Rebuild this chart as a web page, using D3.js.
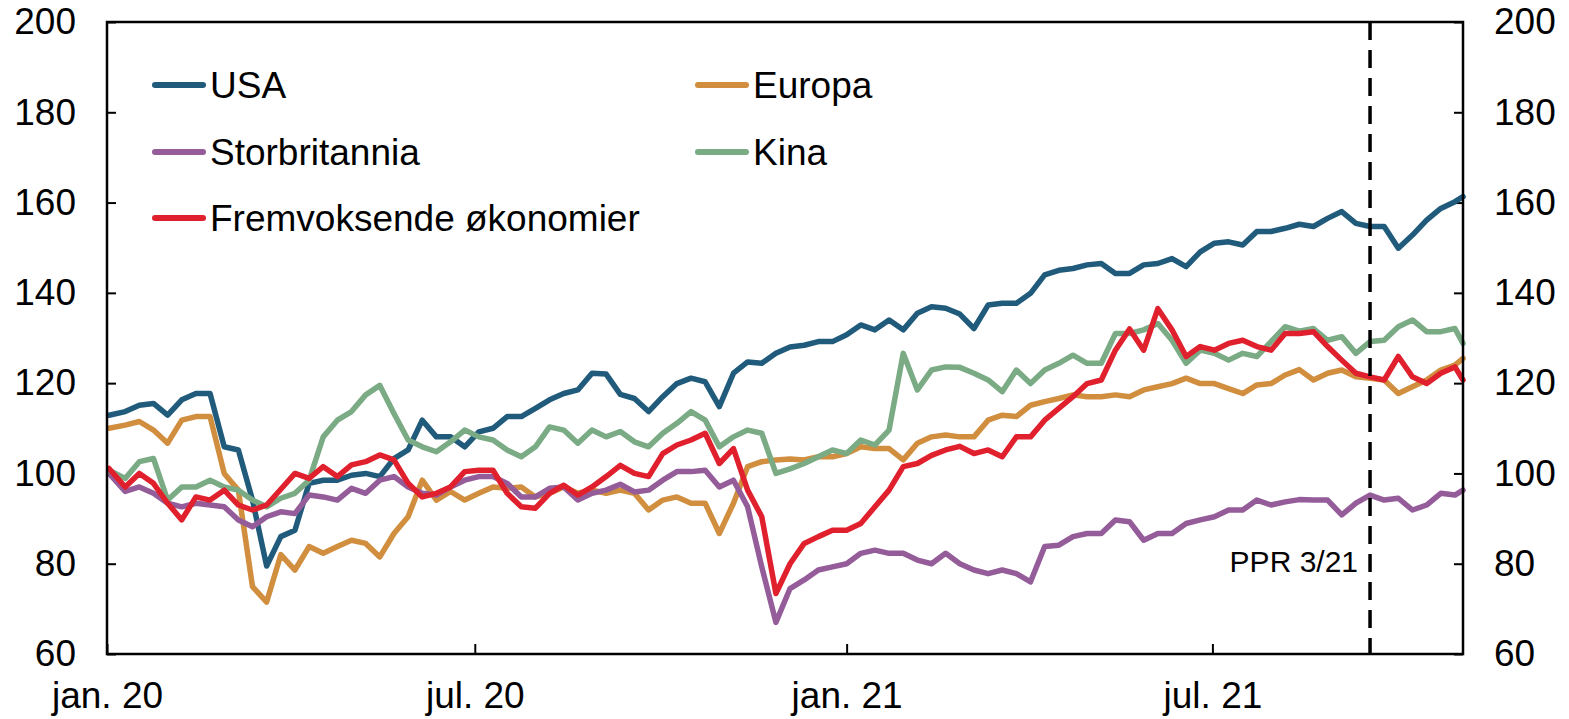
<!DOCTYPE html>
<html>
<head>
<meta charset="utf-8">
<script src="https://cdn.jsdelivr.net/npm/d3@7"></script>
<style>
    body { margin: 0; background: #fff; }
    text { font-family: "Liberation Sans", Arial, sans-serif; fill: #000; }
</style>
</head>
<body>
<div id="canvas"></div>
<script>
"use strict"

/* Weekly observations, index 2 Jan 2020 = 100 */
let dates = [
    "2020-01-02", "2020-01-10", "2020-01-17", "2020-01-24", "2020-01-31",
    "2020-02-07", "2020-02-14", "2020-02-21", "2020-02-28",
    "2020-03-06", "2020-03-13", "2020-03-20", "2020-03-27",
    "2020-04-03", "2020-04-10", "2020-04-17", "2020-04-24",
    "2020-05-01", "2020-05-08", "2020-05-15", "2020-05-22", "2020-05-29",
    "2020-06-05", "2020-06-12", "2020-06-19", "2020-06-26",
    "2020-07-03", "2020-07-10", "2020-07-17", "2020-07-24", "2020-07-31",
    "2020-08-07", "2020-08-14", "2020-08-21", "2020-08-28",
    "2020-09-04", "2020-09-11", "2020-09-18", "2020-09-25",
    "2020-10-02", "2020-10-09", "2020-10-16", "2020-10-23", "2020-10-30",
    "2020-11-06", "2020-11-13", "2020-11-20", "2020-11-27",
    "2020-12-04", "2020-12-11", "2020-12-18", "2020-12-25",
    "2021-01-01", "2021-01-08", "2021-01-15", "2021-01-22", "2021-01-29",
    "2021-02-05", "2021-02-12", "2021-02-19", "2021-02-26",
    "2021-03-05", "2021-03-12", "2021-03-19", "2021-03-26",
    "2021-04-02", "2021-04-09", "2021-04-16", "2021-04-23", "2021-04-30",
    "2021-05-07", "2021-05-14", "2021-05-21", "2021-05-28",
    "2021-06-04", "2021-06-11", "2021-06-18", "2021-06-25",
    "2021-07-02", "2021-07-09", "2021-07-16", "2021-07-23", "2021-07-30",
    "2021-08-06", "2021-08-13", "2021-08-20", "2021-08-27",
    "2021-09-03", "2021-09-10", "2021-09-17", "2021-09-24",
    "2021-10-01", "2021-10-08", "2021-10-15", "2021-10-22", "2021-10-29",
    "2021-11-02"
];

let usa = [
    112.9, 113.7, 115.1, 115.5, 112.9, 116.3, 117.7, 117.7, 105.9, 105.2,
    94.1, 79.5, 86.0, 87.4, 97.8, 98.5, 98.5, 99.6, 100.0, 99.3,
    103.3, 105.2, 111.8, 108.1, 108.1, 105.9, 109.2, 110.0, 112.6, 112.6,
    114.4, 116.3, 117.7, 118.5, 122.2, 122.0, 117.5, 116.6, 113.7, 117.0,
    119.9, 121.1, 120.3, 114.8, 122.2, 124.7, 124.4, 126.6, 128.0, 128.4,
    129.2, 129.2, 130.7, 132.9, 131.8, 134.0, 131.8, 135.5, 136.9, 136.6,
    135.3, 132.1, 137.3, 137.7, 137.7, 139.9, 144.0, 145.0, 145.4, 146.2,
    146.5, 144.3, 144.3, 146.2, 146.5, 147.6, 145.8, 149.1, 151.0, 151.3,
    150.6, 153.6, 153.6, 154.3, 155.2, 154.7, 156.5, 158.0, 155.4, 154.7,
    154.7, 149.9, 152.8, 156.1, 158.7, 160.2, 161.3
];

let europa = [
    110.0, 110.7, 111.5, 109.6, 106.7, 111.8, 112.6, 112.6, 100.0, 96.3,
    74.9, 71.5, 82.0, 78.6, 83.8, 82.3, 83.8, 85.2, 84.5, 81.5,
    86.7, 90.4, 98.5, 94.1, 96.0, 94.1, 95.6, 97.0, 96.7, 97.0,
    94.8, 95.6, 97.0, 95.6, 96.3, 95.6, 96.3, 95.6, 91.9, 94.1,
    94.8, 93.4, 93.4, 86.7, 93.4, 101.5, 102.6, 103.0, 103.2, 103.0,
    103.7, 103.7, 104.4, 105.9, 105.5, 105.5, 103.0, 106.7, 108.1, 108.5,
    108.1, 108.1, 111.8, 112.9, 112.6, 115.1, 115.9, 116.6, 117.4, 117.0,
    117.0, 117.4, 117.0, 118.5, 119.2, 119.9, 121.1, 119.9, 119.9, 118.8,
    117.7, 119.6, 119.9, 121.8, 123.0, 120.7, 122.2, 122.9, 121.4, 121.1,
    120.7, 117.7, 119.2, 120.7, 122.9, 124.0, 125.5
];

let storbritannia = [
    100.0, 96.0, 97.0, 95.6, 93.4, 92.6, 93.4, 93.0, 92.6, 89.7,
    88.2, 90.4, 91.5, 91.1, 95.2, 94.8, 94.1, 96.7, 95.6, 98.5,
    99.3, 97.0, 95.6, 95.2, 97.0, 98.5, 99.3, 99.3, 97.8, 94.8,
    94.8, 96.7, 97.0, 94.1, 95.6, 96.3, 97.6, 95.9, 96.3, 98.5,
    100.4, 100.4, 100.7, 97.0, 98.5, 92.6, 79.3, 67.0, 74.5, 76.4,
    78.6, 79.3, 80.0, 82.3, 83.0, 82.3, 82.3, 80.8, 80.0, 82.3,
    80.0, 78.6, 77.8, 78.6, 77.8, 76.0, 83.8, 84.1, 86.0, 86.7,
    86.7, 89.7, 89.3, 85.2, 86.7, 86.7, 88.9, 89.7, 90.4, 91.9,
    91.9, 94.1, 93.0, 93.7, 94.2, 94.1, 94.1, 90.8, 93.4, 95.2,
    94.1, 94.5, 91.9, 93.0, 95.6, 95.2, 96.3
];

let kina = [
    100.7, 98.9, 102.6, 103.3, 94.1, 97.0, 97.0, 98.5, 97.0, 96.3,
    94.1, 92.6, 94.5, 95.6, 98.5, 108.1, 111.8, 113.7, 117.4, 119.5,
    113.3, 107.4, 105.9, 104.8, 107.0, 109.6, 108.1, 107.4, 105.2, 103.7,
    105.9, 110.3, 109.6, 106.7, 109.6, 108.1, 109.3, 107.0, 105.9, 108.9,
    111.1, 113.7, 111.8, 105.9, 108.1, 109.6, 108.9, 100.0, 101.0, 102.2,
    103.7, 105.2, 104.4, 107.4, 106.3, 109.6, 126.6, 118.5, 122.9, 123.6,
    123.5, 122.2, 120.7, 118.1, 122.9, 119.9, 122.9, 124.4, 126.2, 124.4,
    124.4, 131.0, 131.0, 131.8, 133.2, 129.5, 124.4, 127.3, 126.6, 125.1,
    126.6, 125.9, 129.2, 132.5, 131.5, 132.1, 129.5, 130.3, 126.6, 129.2,
    129.5, 132.5, 134.0, 131.4, 131.4, 132.1, 128.8
];

let fremvoksende = [
    101.1, 97.0, 100.0, 97.8, 93.4, 89.7, 94.8, 94.1, 96.3, 93.0,
    91.9, 93.0, 96.5, 100.0, 98.9, 101.5, 99.3, 101.9, 102.6, 104.1,
    103.0, 97.8, 94.8, 95.6, 97.0, 100.4, 100.7, 100.7, 95.6, 92.6,
    92.3, 95.6, 97.4, 95.2, 97.0, 99.3, 101.8, 100.0, 99.3, 104.4,
    106.3, 107.4, 108.9, 102.2, 105.5, 96.3, 90.4, 73.4, 80.0, 84.5,
    86.0, 87.4, 87.4, 88.9, 92.6, 96.3, 101.5, 102.2, 104.0, 105.2,
    106.0, 104.4, 105.2, 103.7, 108.1, 108.1, 111.8, 114.4, 117.0, 119.9,
    120.7, 127.3, 132.0, 127.3, 136.5, 131.8, 125.9, 128.1, 127.3, 128.8,
    129.5, 128.1, 127.3, 131.0, 131.0, 131.4, 128.1, 125.1, 122.2, 121.4,
    120.7, 125.9, 121.4, 119.9, 122.2, 123.6, 120.7
];

let seriesNames = ["USA", "Europa", "Storbritannia", "Kina", "Fremvoksende økonomier"];
let seriesColors = ["#215b7c", "#d18e3e", "#955c9a", "#7aab84", "#e1202e"];

let yTicks = [60, 80, 100, 120, 140, 160, 180, 200];
let xTickDates = ["2020-01-01", "2020-07-01", "2021-01-01", "2021-07-01"];
let xTickLabels = ["jan. 20", "jul. 20", "jan. 21", "jul. 21"];

let pprDate = "2021-09-17";
let pprLabel = "PPR 3/21";

/* Configuration variables: drawing */
let svgWidth = 1569;
let svgHeight = 719;
let plotLeft = 107;
let plotRight = 1463;
let plotTop = 22;
let plotBottom = 654;

let parseDate = d3.timeParse("%Y-%m-%d");

let svg = d3.select("#canvas")
    .append("svg")
    .attr("width", svgWidth)
    .attr("height", svgHeight)
    .style("display", "block");

let x = d3.scaleTime()
    .domain([parseDate("2020-01-01"), parseDate("2021-11-02")])
    .range([plotLeft, plotRight]);

let y = d3.scaleLinear()
    .domain([60, 200])
    .range([plotBottom, plotTop]);

/* Axes, ticks pointing inward */
let leftAxis = svg.append("g")
    .attr("transform", "translate(" + plotLeft + ",0)")
    .call(d3.axisLeft(y).tickValues(yTicks).tickSize(-9).tickPadding(31));

let rightAxis = svg.append("g")
    .attr("transform", "translate(" + plotRight + ",0)")
    .call(d3.axisRight(y).tickValues(yTicks).tickSize(-9).tickPadding(31));

let bottomAxis = svg.append("g")
    .attr("transform", "translate(0," + plotBottom + ")")
    .call(d3.axisBottom(x)
        .tickValues(xTickDates.map(parseDate))
        .tickFormat(function (d, i) { return xTickLabels[i]; })
        .tickSize(-10)
        .tickPadding(28));

svg.selectAll(".domain").remove();
svg.selectAll(".tick line")
    .attr("stroke", "#000")
    .attr("stroke-width", 2);
svg.selectAll(".tick text")
    .style("font-size", "37px")
    .style("font-family", "\"Liberation Sans\", Arial, sans-serif")
    .attr("fill", "#000");

/* Lines, drawn in legend order */
let allSeries = [usa, europa, storbritannia, kina, fremvoksende];
let parsedDates = dates.map(parseDate);

let line = d3.line()
    .x(function (d, i) { return x(parsedDates[i]); })
    .y(function (d) { return y(d); });

svg.append("g")
    .selectAll("path")
    .data(allSeries)
    .join("path")
    .attr("fill", "none")
    .attr("stroke", function (d, i) { return seriesColors[i]; })
    .attr("stroke-width", 5.5)
    .attr("stroke-linejoin", "round")
    .attr("stroke-linecap", "round")
    .attr("d", line);

/* PPR marker */
svg.append("line")
    .attr("x1", x(parseDate(pprDate)))
    .attr("x2", x(parseDate(pprDate)))
    .attr("y1", plotTop)
    .attr("y2", plotBottom)
    .attr("stroke", "#000")
    .attr("stroke-width", 3.5)
    .attr("stroke-dasharray", "18,10");

svg.append("text")
    .attr("x", x(parseDate(pprDate)) - 12)
    .attr("y", 572)
    .attr("text-anchor", "end")
    .style("font-size", "30px")
    .text(pprLabel);

/* Frame */
svg.append("rect")
    .attr("x", plotLeft)
    .attr("y", plotTop)
    .attr("width", plotRight - plotLeft)
    .attr("height", plotBottom - plotTop)
    .attr("fill", "none")
    .attr("stroke", "#000")
    .attr("stroke-width", 2.5);

/* Legend: two columns */
let legendCols = [152, 695];
let legendRows = [85, 152, 218];

let legend = svg.append("g")
    .selectAll("g")
    .data(seriesNames)
    .join("g")
    .attr("transform", function (d, i) {
        return "translate(" + legendCols[i % 2] + "," + legendRows[Math.floor(i / 2)] + ")";
    });

legend.append("line")
    .attr("x1", 3)
    .attr("x2", 51)
    .attr("stroke", function (d, i) { return seriesColors[i]; })
    .attr("stroke-width", 6)
    .attr("stroke-linecap", "round");

legend.append("text")
    .attr("x", 58)
    .attr("dy", "0.35em")
    .style("font-size", "37px")
    .text(function (d) { return d; });
</script>
</body>
</html>
